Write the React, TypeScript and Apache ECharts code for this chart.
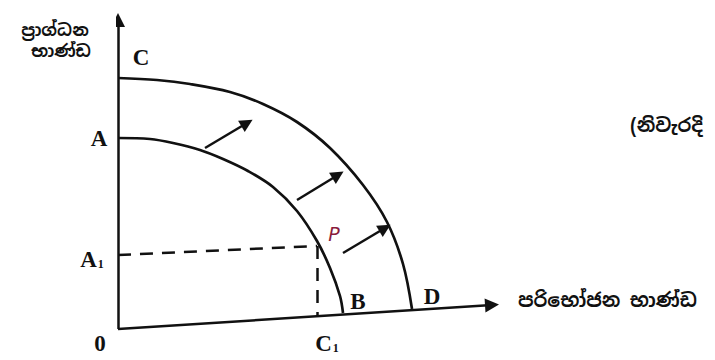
import React, { useEffect, useRef } from "react";
import * as echarts from "echarts";

// Inner production possibility curve A–B (data units = pixels from origin)
const innerX = [0, 32, 55, 82, 105, 130, 155, 179, 199, 212, 222, 225];
const innerY = [192, 191, 187, 180, 171, 159, 143, 119, 89, 62, 34, 17];
// Outer production possibility curve C–D
const outerX = [0, 39, 72, 112, 145, 179, 212, 245, 269, 285, 294];
const outerY = [252, 250, 246, 238, 226, 208, 182, 145, 108, 66, 21];
// Axes (start, end)
const yAxisLine = [[0, 1], [0, 310]];
const xAxisLine = [[0, 1], [374, 25]];
// Dashed guide lines through point P
const dashH = [[0, 75], [199, 84]];
const dashV = [[199, 84], [199, 14]];
// Shift arrows
const shiftArrows = [
  [[87, 182], [129, 207]],
  [[179, 130], [220, 155]],
  [[225, 77], [267, 102]],
];

const yName1 = "ප්‍රාග්ධන";
const yName2 = "භාණ්ඩ";
const xName = "පරිභෝජන භාණ්ඩ";
const sideNote = "(නිවැරදි";

const serif = "'Liberation Serif', 'DejaVu Serif', serif";
const sinhala = "'Noto Sans Sinhala', 'Noto Sans', sans-serif";

export default function App() {
  const ref = useRef<HTMLDivElement>(null);
  useEffect(() => {
    if (!ref.current) return;
    const chart = echarts.init(ref.current, null, { renderer: "svg" });
    const zip = (xs: number[], ys: number[]) => xs.map((x, i) => [x, ys[i]]);
    const letter = (text: string, x: number, y: number, extra: any = {}) => ({
      type: "text",
      x,
      y,
      style: {
        text,
        font: `bold 23px ${serif}`,
        fill: "#111",
        align: "center",
        verticalAlign: "middle",
        ...extra,
      },
    });
    const sub = (main: string, x: number, y: number) => ({
      type: "text",
      x,
      y,
      style: {
        text: `{m|${main}}{s|1}`,
        rich: {
          m: { font: `bold 23px ${serif}`, fill: "#111" },
          s: { font: `bold 12px ${serif}`, fill: "#111", padding: [10, 0, 0, 1] },
        },
        align: "center",
        verticalAlign: "middle",
      },
    });
    const sText = (text: string, x: number, y: number, size: number, align: string) => ({
      type: "text",
      x,
      y,
      style: { text, font: `bold ${size}px ${sinhala}`, fill: "#111", align, verticalAlign: "middle" },
    });
    chart.setOption({
      animation: false,
      backgroundColor: "#ffffff",
      grid: { left: 118, top: 0, width: 400, height: 330 },
      xAxis: { type: "value", min: 0, max: 400, show: false },
      yAxis: { type: "value", min: 0, max: 330, show: false },
      series: [
        {
          type: "lines",
          coordinateSystem: "cartesian2d",
          symbol: ["none", "triangle"],
          symbolSize: [11, 14],
          lineStyle: { color: "#111", width: 2.5, opacity: 1 },
          data: [{ coords: yAxisLine }, { coords: xAxisLine }],
          z: 3,
        },
        {
          type: "line",
          data: zip(innerX, innerY),
          smooth: 0.35,
          showSymbol: false,
          lineStyle: { color: "#111", width: 2.7 },
        },
        {
          type: "line",
          data: zip(outerX, outerY),
          smooth: 0.35,
          showSymbol: false,
          lineStyle: { color: "#111", width: 2.7 },
        },
        {
          type: "lines",
          coordinateSystem: "cartesian2d",
          symbol: ["none", "none"],
          lineStyle: { color: "#111", width: 2.5, type: [13, 9], opacity: 1 },
          data: [{ coords: dashH }, { coords: dashV }],
        },
        {
          type: "lines",
          coordinateSystem: "cartesian2d",
          symbol: ["none", "triangle"],
          symbolSize: [10, 13],
          lineStyle: { color: "#111", width: 2.5, opacity: 1 },
          data: shiftArrows.map((c) => ({ coords: c })),
        },
      ],
      graphic: [
        letter("C", 141, 57),
        letter("A", 99, 138),
        sub("A", 92, 259),
        letter("0", 100, 343),
        sub("C", 327, 343),
        letter("B", 358, 301),
        letter("D", 432, 296),
        {
          type: "text",
          x: 334,
          y: 234,
          style: {
            text: "P",
            font: `italic 19px 'DejaVu Sans', sans-serif`,
            fill: "#8a1c3c",
            align: "center",
            verticalAlign: "middle",
          },
        },
        sText(yName1, 55, 30, 17, "center"),
        sText(yName2, 61, 51, 17, "center"),
        sText(xName, 518, 300, 19, "left"),
        sText(sideNote, 630, 125, 19, "left"),
      ],
    });
    return () => chart.dispose();
  }, []);
  return (
    <div
      ref={ref}
      style={{ position: "fixed", left: 0, top: 0, width: 715, height: 360 }}
    />
  );
}
